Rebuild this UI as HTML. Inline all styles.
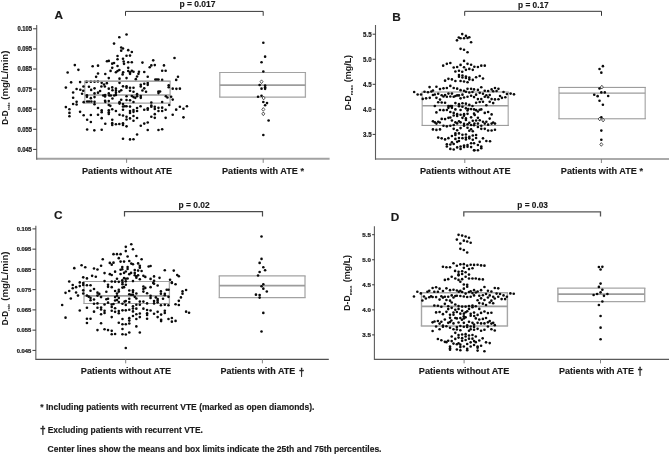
<!DOCTYPE html>
<html><head><meta charset="utf-8"><title>Figure</title>
<style>
html,body{margin:0;padding:0;background:#fff;}
body{width:669px;height:455px;overflow:hidden;}
svg{display:block;}
svg text{font-family:"Liberation Sans", Arial, Helvetica, sans-serif;font-weight:bold;fill:#1a1a1a;}
</style></head><body>
<svg width="669" height="455" viewBox="0 0 669 455">
<rect width="669" height="455" fill="#fff"/>
<g id="panel-A">
<path d="M84.8 81.2V103.2M170.1 81.2V103.2" fill="none" stroke="#aaaaaa" stroke-width="1.3"/>
<path d="M84.15 81.2H170.75M84.15 103.2H170.75" fill="none" stroke="#a2a2a2" stroke-width="1.2"/>
<line x1="84.8" y1="95" x2="170.1" y2="95" stroke="#9c9c9c" stroke-width="1.7"/>
<path d="M219.8 72.5V97.1M305.4 72.5V97.1" fill="none" stroke="#aaaaaa" stroke-width="1.3"/>
<path d="M219.15 72.5H306.05M219.15 97.1H306.05" fill="none" stroke="#a2a2a2" stroke-width="1.2"/>
<line x1="219.8" y1="85.2" x2="305.4" y2="85.2" stroke="#9c9c9c" stroke-width="1.7"/>
<g fill="#0a0a0a"><circle cx="119.31" cy="37.28" r="1.3"/><circle cx="114.04" cy="43.6" r="1.3"/><circle cx="121.2" cy="47.5" r="1.3"/><circle cx="123.0" cy="48.56" r="1.3"/><circle cx="121.2" cy="50.67" r="1.3"/><circle cx="117.52" cy="55.94" r="1.3"/><circle cx="117.52" cy="59.31" r="1.3"/><circle cx="123.0" cy="58.78" r="1.3"/><circle cx="106.97" cy="61.21" r="1.3"/><circle cx="108.77" cy="60.89" r="1.3"/><circle cx="112.24" cy="63.63" r="1.3"/><circle cx="114.04" cy="63.0" r="1.3"/><circle cx="74.82" cy="65.11" r="1.3"/><circle cx="92.64" cy="66.27" r="1.3"/><circle cx="98.01" cy="65.64" r="1.3"/><circle cx="117.52" cy="65.95" r="1.3"/><circle cx="78.4" cy="69.85" r="1.3"/><circle cx="112.24" cy="67.85" r="1.3"/><circle cx="110.56" cy="70.91" r="1.3"/><circle cx="67.65" cy="72.49" r="1.3"/><circle cx="98.01" cy="73.54" r="1.3"/><circle cx="105.29" cy="74.07" r="1.3"/><circle cx="115.93" cy="72.28" r="1.3"/><circle cx="117.52" cy="71.01" r="1.3"/><circle cx="119.31" cy="69.96" r="1.3"/><circle cx="96.11" cy="76.84" r="1.3"/><circle cx="108.77" cy="78.11" r="1.3"/><circle cx="119.52" cy="78.64" r="1.3"/><circle cx="71.13" cy="82.33" r="1.3"/><circle cx="80.09" cy="82.11" r="1.3"/><circle cx="86.63" cy="81.9" r="1.3"/><circle cx="90.84" cy="81.8" r="1.3"/><circle cx="94.53" cy="81.8" r="1.3"/><circle cx="97.91" cy="81.48" r="1.3"/><circle cx="101.7" cy="82.85" r="1.3"/><circle cx="104.02" cy="84.43" r="1.3"/><circle cx="106.87" cy="83.17" r="1.3"/><circle cx="119.52" cy="82.85" r="1.3"/><circle cx="123.0" cy="86.33" r="1.3"/><circle cx="65.86" cy="87.6" r="1.3"/><circle cx="76.61" cy="88.97" r="1.3"/><circle cx="80.3" cy="89.7" r="1.3"/><circle cx="83.46" cy="86.54" r="1.3"/><circle cx="83.25" cy="90.76" r="1.3"/><circle cx="88.95" cy="86.75" r="1.3"/><circle cx="91.16" cy="89.92" r="1.3"/><circle cx="94.53" cy="88.33" r="1.3"/><circle cx="101.39" cy="86.54" r="1.3"/><circle cx="104.86" cy="86.54" r="1.3"/><circle cx="108.77" cy="88.65" r="1.3"/><circle cx="112.24" cy="87.39" r="1.3"/><circle cx="112.45" cy="90.23" r="1.3"/><circle cx="115.93" cy="88.65" r="1.3"/><circle cx="115.93" cy="90.76" r="1.3"/><circle cx="115.93" cy="92.87" r="1.3"/><circle cx="115.93" cy="94.98" r="1.3"/><circle cx="114.25" cy="95.5" r="1.3"/><circle cx="119.31" cy="91.6" r="1.3"/><circle cx="121.2" cy="90.23" r="1.3"/><circle cx="73.13" cy="92.55" r="1.3"/><circle cx="82.09" cy="93.71" r="1.3"/><circle cx="94.53" cy="93.39" r="1.3"/><circle cx="98.01" cy="92.66" r="1.3"/><circle cx="100.12" cy="90.97" r="1.3"/><circle cx="108.77" cy="93.39" r="1.3"/><circle cx="86.94" cy="95.19" r="1.3"/><circle cx="86.94" cy="96.87" r="1.3"/><circle cx="90.84" cy="98.14" r="1.3"/><circle cx="94.53" cy="97.08" r="1.3"/><circle cx="103.28" cy="95.5" r="1.3"/><circle cx="105.08" cy="96.56" r="1.3"/><circle cx="105.08" cy="94.98" r="1.3"/><circle cx="109.29" cy="95.5" r="1.3"/><circle cx="110.87" cy="95.5" r="1.3"/><circle cx="112.45" cy="98.45" r="1.3"/><circle cx="73.13" cy="97.82" r="1.3"/><circle cx="121.2" cy="99.72" r="1.3"/><circle cx="76.61" cy="101.83" r="1.3"/><circle cx="76.61" cy="104.46" r="1.3"/><circle cx="73.13" cy="103.94" r="1.3"/><circle cx="83.67" cy="102.14" r="1.3"/><circle cx="87.15" cy="101.51" r="1.3"/><circle cx="89.05" cy="101.51" r="1.3"/><circle cx="91.37" cy="101.51" r="1.3"/><circle cx="94.53" cy="101.83" r="1.3"/><circle cx="94.53" cy="104.25" r="1.3"/><circle cx="105.08" cy="100.77" r="1.3"/><circle cx="105.29" cy="101.83" r="1.3"/><circle cx="108.77" cy="101.09" r="1.3"/><circle cx="119.52" cy="103.62" r="1.3"/><circle cx="119.52" cy="102.14" r="1.3"/><circle cx="123.0" cy="103.94" r="1.3"/><circle cx="108.77" cy="104.99" r="1.3"/><circle cx="110.35" cy="105.83" r="1.3"/><circle cx="123.0" cy="106.57" r="1.3"/><circle cx="65.86" cy="107.1" r="1.3"/><circle cx="69.44" cy="109.21" r="1.3"/><circle cx="69.44" cy="112.9" r="1.3"/><circle cx="69.44" cy="116.27" r="1.3"/><circle cx="98.01" cy="107.94" r="1.3"/><circle cx="101.7" cy="110.26" r="1.3"/><circle cx="101.7" cy="112.16" r="1.3"/><circle cx="108.77" cy="110.26" r="1.3"/><circle cx="108.77" cy="112.37" r="1.3"/><circle cx="108.77" cy="113.95" r="1.3"/><circle cx="112.24" cy="109.21" r="1.3"/><circle cx="115.93" cy="111.0" r="1.3"/><circle cx="123.0" cy="109.73" r="1.3"/><circle cx="80.09" cy="111.84" r="1.3"/><circle cx="83.67" cy="115.32" r="1.3"/><circle cx="90.84" cy="115.01" r="1.3"/><circle cx="98.01" cy="114.8" r="1.3"/><circle cx="101.7" cy="118.17" r="1.3"/><circle cx="119.52" cy="114.8" r="1.3"/><circle cx="123.0" cy="115.53" r="1.3"/><circle cx="87.15" cy="119.75" r="1.3"/><circle cx="90.84" cy="122.07" r="1.3"/><circle cx="112.24" cy="119.75" r="1.3"/><circle cx="105.29" cy="123.69" r="1.3"/><circle cx="112.24" cy="123.16" r="1.3"/><circle cx="112.24" cy="125.06" r="1.3"/><circle cx="115.93" cy="124.22" r="1.3"/><circle cx="119.31" cy="124.01" r="1.3"/><circle cx="123.0" cy="123.37" r="1.3"/><circle cx="123.0" cy="125.06" r="1.3"/><circle cx="87.15" cy="129.49" r="1.3"/><circle cx="94.32" cy="130.33" r="1.3"/><circle cx="101.7" cy="129.7" r="1.3"/><circle cx="123.0" cy="138.77" r="1.3"/><circle cx="123.69" cy="61.52" r="1.3"/><circle cx="124.01" cy="63.84" r="1.3"/><circle cx="123.16" cy="72.28" r="1.3"/><circle cx="122.64" cy="74.39" r="1.3"/><circle cx="126.54" cy="34.54" r="1.3"/><circle cx="128.22" cy="50.14" r="1.3"/><circle cx="131.81" cy="52.04" r="1.3"/><circle cx="126.54" cy="55.73" r="1.3"/><circle cx="130.02" cy="55.62" r="1.3"/><circle cx="128.22" cy="62.26" r="1.3"/><circle cx="131.81" cy="62.26" r="1.3"/><circle cx="128.22" cy="67.85" r="1.3"/><circle cx="128.22" cy="71.01" r="1.3"/><circle cx="130.02" cy="72.28" r="1.3"/><circle cx="131.81" cy="70.7" r="1.3"/><circle cx="133.49" cy="71.75" r="1.3"/><circle cx="130.02" cy="73.86" r="1.3"/><circle cx="138.98" cy="71.75" r="1.3"/><circle cx="138.45" cy="73.86" r="1.3"/><circle cx="142.45" cy="62.58" r="1.3"/><circle cx="144.25" cy="72.07" r="1.3"/><circle cx="153.21" cy="60.36" r="1.3"/><circle cx="151.31" cy="65.42" r="1.3"/><circle cx="149.73" cy="67.22" r="1.3"/><circle cx="154.79" cy="65.11" r="1.3"/><circle cx="163.96" cy="65.42" r="1.3"/><circle cx="162.17" cy="70.7" r="1.3"/><circle cx="165.65" cy="70.7" r="1.3"/><circle cx="174.5" cy="58.05" r="1.3"/><circle cx="126.54" cy="78.11" r="1.3"/><circle cx="135.81" cy="79.17" r="1.3"/><circle cx="137.08" cy="76.43" r="1.3"/><circle cx="147.73" cy="76.74" r="1.3"/><circle cx="155.32" cy="79.59" r="1.3"/><circle cx="156.9" cy="79.59" r="1.3"/><circle cx="158.48" cy="79.59" r="1.3"/><circle cx="162.17" cy="79.91" r="1.3"/><circle cx="177.98" cy="76.74" r="1.3"/><circle cx="176.19" cy="79.91" r="1.3"/><circle cx="126.54" cy="86.23" r="1.3"/><circle cx="126.54" cy="87.81" r="1.3"/><circle cx="130.02" cy="87.81" r="1.3"/><circle cx="133.49" cy="87.81" r="1.3"/><circle cx="130.02" cy="90.77" r="1.3"/><circle cx="133.49" cy="91.82" r="1.3"/><circle cx="140.77" cy="84.86" r="1.3"/><circle cx="140.77" cy="86.55" r="1.3"/><circle cx="144.25" cy="83.81" r="1.3"/><circle cx="147.73" cy="83.07" r="1.3"/><circle cx="147.73" cy="84.86" r="1.3"/><circle cx="144.25" cy="88.34" r="1.3"/><circle cx="142.45" cy="90.45" r="1.3"/><circle cx="146.04" cy="91.82" r="1.3"/><circle cx="158.48" cy="91.5" r="1.3"/><circle cx="160.06" cy="91.5" r="1.3"/><circle cx="158.48" cy="93.08" r="1.3"/><circle cx="168.7" cy="85.18" r="1.3"/><circle cx="168.7" cy="87.29" r="1.3"/><circle cx="172.71" cy="88.66" r="1.3"/><circle cx="176.4" cy="88.87" r="1.3"/><circle cx="179.88" cy="88.66" r="1.3"/><circle cx="126.54" cy="96.25" r="1.3"/><circle cx="126.54" cy="99.94" r="1.3"/><circle cx="130.02" cy="100.25" r="1.3"/><circle cx="131.81" cy="96.04" r="1.3"/><circle cx="133.49" cy="97.09" r="1.3"/><circle cx="135.29" cy="97.83" r="1.3"/><circle cx="137.08" cy="94.14" r="1.3"/><circle cx="137.08" cy="96.25" r="1.3"/><circle cx="140.77" cy="96.04" r="1.3"/><circle cx="140.77" cy="97.83" r="1.3"/><circle cx="165.86" cy="96.25" r="1.3"/><circle cx="167.44" cy="97.51" r="1.3"/><circle cx="171.13" cy="96.77" r="1.3"/><circle cx="172.71" cy="99.62" r="1.3"/><circle cx="133.49" cy="102.05" r="1.3"/><circle cx="151.31" cy="102.57" r="1.3"/><circle cx="162.17" cy="102.05" r="1.3"/><circle cx="169.23" cy="105.0" r="1.3"/><circle cx="124.74" cy="106.26" r="1.3"/><circle cx="126.54" cy="106.26" r="1.3"/><circle cx="130.02" cy="106.58" r="1.3"/><circle cx="140.56" cy="106.26" r="1.3"/><circle cx="151.31" cy="105.52" r="1.3"/><circle cx="151.31" cy="106.79" r="1.3"/><circle cx="154.79" cy="106.79" r="1.3"/><circle cx="154.79" cy="108.9" r="1.3"/><circle cx="158.48" cy="107.84" r="1.3"/><circle cx="162.17" cy="107.63" r="1.3"/><circle cx="158.48" cy="111.01" r="1.3"/><circle cx="162.17" cy="111.01" r="1.3"/><circle cx="165.65" cy="109.74" r="1.3"/><circle cx="144.25" cy="109.74" r="1.3"/><circle cx="147.73" cy="108.37" r="1.3"/><circle cx="147.73" cy="109.74" r="1.3"/><circle cx="137.08" cy="108.05" r="1.3"/><circle cx="137.08" cy="111.01" r="1.3"/><circle cx="133.49" cy="109.95" r="1.3"/><circle cx="133.49" cy="111.85" r="1.3"/><circle cx="130.02" cy="111.01" r="1.3"/><circle cx="130.02" cy="112.9" r="1.3"/><circle cx="176.19" cy="109.64" r="1.3"/><circle cx="179.88" cy="106.79" r="1.3"/><circle cx="183.46" cy="108.69" r="1.3"/><circle cx="186.94" cy="106.26" r="1.3"/><circle cx="172.71" cy="114.7" r="1.3"/><circle cx="154.79" cy="114.17" r="1.3"/><circle cx="151.31" cy="116.8" r="1.3"/><circle cx="154.79" cy="117.86" r="1.3"/><circle cx="165.65" cy="117.86" r="1.3"/><circle cx="183.46" cy="117.33" r="1.3"/><circle cx="126.54" cy="116.8" r="1.3"/><circle cx="126.54" cy="119.44" r="1.3"/><circle cx="130.02" cy="118.39" r="1.3"/><circle cx="133.49" cy="116.07" r="1.3"/><circle cx="137.08" cy="118.07" r="1.3"/><circle cx="133.49" cy="120.74" r="1.3"/><circle cx="126.54" cy="126.33" r="1.3"/><circle cx="140.77" cy="125.8" r="1.3"/><circle cx="144.25" cy="123.59" r="1.3"/><circle cx="147.73" cy="122.54" r="1.3"/><circle cx="147.73" cy="130.02" r="1.3"/><circle cx="158.48" cy="130.02" r="1.3"/><circle cx="162.17" cy="129.18" r="1.3"/><circle cx="137.08" cy="134.45" r="1.3"/><circle cx="130.02" cy="139.4" r="1.3"/><circle cx="133.49" cy="139.19" r="1.3"/><circle cx="263.32" cy="42.76" r="1.3"/><circle cx="265.11" cy="56.67" r="1.3"/><circle cx="261.52" cy="62.26" r="1.3"/><circle cx="263.32" cy="71.43" r="1.3"/><circle cx="259.63" cy="84.97" r="1.3"/><circle cx="261.52" cy="88.66" r="1.3"/><circle cx="265.11" cy="85.49" r="1.3"/><circle cx="265.11" cy="87.29" r="1.3"/><circle cx="265.11" cy="88.87" r="1.3"/><circle cx="258.05" cy="96.77" r="1.3"/><circle cx="261.52" cy="95.72" r="1.3"/><circle cx="263.32" cy="102.05" r="1.3"/><circle cx="267.01" cy="103.1" r="1.3"/><circle cx="265.11" cy="105.21" r="1.3"/><circle cx="268.59" cy="120.43" r="1.3"/><circle cx="263.32" cy="134.98" r="1.3"/></g>
<line x1="84.8" y1="81.2" x2="170.1" y2="81.2" stroke="#a0a0a0" stroke-width="1.15"/>
<path d="M261.52 79.85L263.02 81.7L261.52 83.55L260.02 81.7Z" fill="#fff" stroke="#111" stroke-width="0.7"/>
<path d="M263.63 96.19L265.13 98.04L263.63 99.89L262.13 98.04Z" fill="#fff" stroke="#111" stroke-width="0.7"/>
<path d="M263.32 107.57L264.82 109.42L263.32 111.27L261.82 109.42Z" fill="#fff" stroke="#111" stroke-width="0.7"/>
<path d="M263.32 112.0L264.82 113.85L263.32 115.7L261.82 113.85Z" fill="#fff" stroke="#111" stroke-width="0.7"/>
<line x1="36.7" y1="158.85" x2="329.6" y2="158.85" stroke="#a2a2a2" stroke-width="2"/>
<line x1="36.7" y1="25" x2="36.7" y2="159.85" stroke="#5c5c5c" stroke-width="1.1"/>
<line x1="33.1" y1="28.8" x2="36.7" y2="28.8" stroke="#3a3a3a" stroke-width="1"/>
<text x="32.1" y="31.2" font-size="6.3" text-anchor="end" textLength="14.6" lengthAdjust="spacingAndGlyphs" stroke="#1a1a1a" stroke-width="0.22">0.105</text>
<line x1="33.1" y1="48.9" x2="36.7" y2="48.9" stroke="#3a3a3a" stroke-width="1"/>
<text x="32.1" y="51.3" font-size="6.3" text-anchor="end" textLength="14.6" lengthAdjust="spacingAndGlyphs" stroke="#1a1a1a" stroke-width="0.22">0.095</text>
<line x1="33.1" y1="69.0" x2="36.7" y2="69.0" stroke="#3a3a3a" stroke-width="1"/>
<text x="32.1" y="71.4" font-size="6.3" text-anchor="end" textLength="14.6" lengthAdjust="spacingAndGlyphs" stroke="#1a1a1a" stroke-width="0.22">0.085</text>
<line x1="33.1" y1="89.1" x2="36.7" y2="89.1" stroke="#3a3a3a" stroke-width="1"/>
<text x="32.1" y="91.5" font-size="6.3" text-anchor="end" textLength="14.6" lengthAdjust="spacingAndGlyphs" stroke="#1a1a1a" stroke-width="0.22">0.075</text>
<line x1="33.1" y1="109.2" x2="36.7" y2="109.2" stroke="#3a3a3a" stroke-width="1"/>
<text x="32.1" y="111.6" font-size="6.3" text-anchor="end" textLength="14.6" lengthAdjust="spacingAndGlyphs" stroke="#1a1a1a" stroke-width="0.22">0.065</text>
<line x1="33.1" y1="129.3" x2="36.7" y2="129.3" stroke="#3a3a3a" stroke-width="1"/>
<text x="32.1" y="131.7" font-size="6.3" text-anchor="end" textLength="14.6" lengthAdjust="spacingAndGlyphs" stroke="#1a1a1a" stroke-width="0.22">0.055</text>
<line x1="33.1" y1="149.4" x2="36.7" y2="149.4" stroke="#3a3a3a" stroke-width="1"/>
<text x="32.1" y="151.8" font-size="6.3" text-anchor="end" textLength="14.6" lengthAdjust="spacingAndGlyphs" stroke="#1a1a1a" stroke-width="0.22">0.045</text>
<line x1="126.6" y1="158.85" x2="126.6" y2="162.85" stroke="#777" stroke-width="0.9"/>
<line x1="263.2" y1="158.85" x2="263.2" y2="162.85" stroke="#777" stroke-width="0.9"/>
<path d="M125.5 15.8V11.4H263.2V15.8" fill="none" stroke="#2c2c2c" stroke-width="0.95"/>
<text x="179.5" y="6.5" font-size="8.5" text-anchor="start" textLength="36" lengthAdjust="spacingAndGlyphs" stroke="#1a1a1a" stroke-width="0.15">p = 0.017</text>
<text x="54.6" y="18.6" font-size="11.8" text-anchor="start" stroke="#1a1a1a" stroke-width="0.15">A</text>
<text x="82" y="173.7" font-size="9.3" text-anchor="start" textLength="90.2" lengthAdjust="spacingAndGlyphs" stroke="#1a1a1a" stroke-width="0.15">Patients without ATE</text>
<text x="222" y="173.7" font-size="9.3" text-anchor="start" textLength="82" lengthAdjust="spacingAndGlyphs" stroke="#1a1a1a" stroke-width="0.15">Patients with ATE *</text>
<text transform="translate(7.8 124.8) rotate(-90)" font-size="8.4" textLength="14.4" lengthAdjust="spacingAndGlyphs">D-D</text>
<text transform="translate(9.8 110.2) rotate(-90)" font-size="4.3" textLength="7.7" lengthAdjust="spacingAndGlyphs">rate</text>
<text transform="translate(7.8 99.8) rotate(-90)" font-size="8.8" textLength="49.2" lengthAdjust="spacingAndGlyphs">(mg/L/min)</text>
</g>
<g id="panel-B">
<path d="M422.2 92V125.4M508.2 92V125.4" fill="none" stroke="#b0b0b0" stroke-width="1.3"/>
<path d="M421.55 92H508.85M421.55 125.4H508.85" fill="none" stroke="#8c8c8c" stroke-width="0.95"/>
<line x1="422.2" y1="105.8" x2="508.2" y2="105.8" stroke="#9c9c9c" stroke-width="1.6"/>
<path d="M559 87.4V118.8M645.2 87.4V118.8" fill="none" stroke="#b0b0b0" stroke-width="1.3"/>
<path d="M558.35 87.4H645.85M558.35 118.8H645.85" fill="none" stroke="#8c8c8c" stroke-width="0.95"/>
<line x1="559" y1="93.2" x2="645.2" y2="93.2" stroke="#9c9c9c" stroke-width="1.25"/>
<g fill="#0a0a0a"><circle cx="462.24" cy="34.11" r="1.3"/><circle cx="465.93" cy="35.91" r="1.3"/><circle cx="458.77" cy="37.49" r="1.3"/><circle cx="460.56" cy="38.23" r="1.3"/><circle cx="464.04" cy="38.23" r="1.3"/><circle cx="467.52" cy="38.02" r="1.3"/><circle cx="469.31" cy="37.28" r="1.3"/><circle cx="456.97" cy="40.33" r="1.3"/><circle cx="471.1" cy="42.23" r="1.3"/><circle cx="460.56" cy="48.87" r="1.3"/><circle cx="464.04" cy="49.82" r="1.3"/><circle cx="467.52" cy="52.25" r="1.3"/><circle cx="464.04" cy="60.89" r="1.3"/><circle cx="443.16" cy="65.64" r="1.3"/><circle cx="446.85" cy="63.84" r="1.3"/><circle cx="450.33" cy="63.0" r="1.3"/><circle cx="467.52" cy="63.84" r="1.3"/><circle cx="471.1" cy="64.69" r="1.3"/><circle cx="474.37" cy="66.8" r="1.3"/><circle cx="460.56" cy="64.9" r="1.3"/><circle cx="453.7" cy="67.53" r="1.3"/><circle cx="457.18" cy="67.01" r="1.3"/><circle cx="464.04" cy="67.22" r="1.3"/><circle cx="465.93" cy="69.85" r="1.3"/><circle cx="469.31" cy="68.9" r="1.3"/><circle cx="472.79" cy="69.85" r="1.3"/><circle cx="455.39" cy="71.43" r="1.3"/><circle cx="458.98" cy="70.7" r="1.3"/><circle cx="462.24" cy="71.75" r="1.3"/><circle cx="458.98" cy="74.95" r="1.3"/><circle cx="458.98" cy="76.74" r="1.3"/><circle cx="462.45" cy="75.48" r="1.3"/><circle cx="462.45" cy="77.48" r="1.3"/><circle cx="465.93" cy="76.43" r="1.3"/><circle cx="465.93" cy="78.01" r="1.3"/><circle cx="469.31" cy="77.48" r="1.3"/><circle cx="469.31" cy="79.38" r="1.3"/><circle cx="472.79" cy="79.91" r="1.3"/><circle cx="448.43" cy="78.85" r="1.3"/><circle cx="451.91" cy="79.38" r="1.3"/><circle cx="445.06" cy="80.64" r="1.3"/><circle cx="455.39" cy="80.96" r="1.3"/><circle cx="460.56" cy="80.96" r="1.3"/><circle cx="464.04" cy="81.49" r="1.3"/><circle cx="467.52" cy="82.23" r="1.3"/><circle cx="450.33" cy="85.92" r="1.3"/><circle cx="429.56" cy="87.08" r="1.3"/><circle cx="436.42" cy="86.76" r="1.3"/><circle cx="440.0" cy="89.08" r="1.3"/><circle cx="443.48" cy="88.34" r="1.3"/><circle cx="446.85" cy="88.02" r="1.3"/><circle cx="453.7" cy="88.02" r="1.3"/><circle cx="457.18" cy="88.66" r="1.3"/><circle cx="460.56" cy="90.13" r="1.3"/><circle cx="464.04" cy="90.77" r="1.3"/><circle cx="465.93" cy="91.82" r="1.3"/><circle cx="467.52" cy="88.87" r="1.3"/><circle cx="471.1" cy="88.87" r="1.3"/><circle cx="474.05" cy="89.39" r="1.3"/><circle cx="469.31" cy="92.56" r="1.3"/><circle cx="472.47" cy="92.03" r="1.3"/><circle cx="414.17" cy="92.03" r="1.3"/><circle cx="417.65" cy="94.45" r="1.3"/><circle cx="421.02" cy="94.45" r="1.3"/><circle cx="424.5" cy="91.71" r="1.3"/><circle cx="427.98" cy="92.24" r="1.3"/><circle cx="431.36" cy="91.5" r="1.3"/><circle cx="432.94" cy="90.45" r="1.3"/><circle cx="432.94" cy="94.98" r="1.3"/><circle cx="434.83" cy="94.45" r="1.3"/><circle cx="438.21" cy="93.82" r="1.3"/><circle cx="441.69" cy="95.19" r="1.3"/><circle cx="443.48" cy="96.46" r="1.3"/><circle cx="445.06" cy="94.98" r="1.3"/><circle cx="446.85" cy="96.77" r="1.3"/><circle cx="448.43" cy="93.61" r="1.3"/><circle cx="450.33" cy="96.46" r="1.3"/><circle cx="451.91" cy="93.61" r="1.3"/><circle cx="453.7" cy="96.77" r="1.3"/><circle cx="455.39" cy="96.04" r="1.3"/><circle cx="457.18" cy="95.4" r="1.3"/><circle cx="458.98" cy="95.4" r="1.3"/><circle cx="462.45" cy="94.67" r="1.3"/><circle cx="460.56" cy="98.36" r="1.3"/><circle cx="464.04" cy="97.51" r="1.3"/><circle cx="467.52" cy="96.77" r="1.3"/><circle cx="471.1" cy="95.72" r="1.3"/><circle cx="474.05" cy="97.09" r="1.3"/><circle cx="422.71" cy="98.88" r="1.3"/><circle cx="426.08" cy="98.36" r="1.3"/><circle cx="429.77" cy="97.83" r="1.3"/><circle cx="436.42" cy="97.83" r="1.3"/><circle cx="440.0" cy="99.62" r="1.3"/><circle cx="438.21" cy="102.26" r="1.3"/><circle cx="441.69" cy="102.57" r="1.3"/><circle cx="445.06" cy="102.78" r="1.3"/><circle cx="455.39" cy="103.1" r="1.3"/><circle cx="458.98" cy="104.15" r="1.3"/><circle cx="462.45" cy="103.31" r="1.3"/><circle cx="465.93" cy="103.63" r="1.3"/><circle cx="469.31" cy="104.89" r="1.3"/><circle cx="472.47" cy="105.95" r="1.3"/><circle cx="434.83" cy="106.05" r="1.3"/><circle cx="448.43" cy="105.95" r="1.3"/><circle cx="450.33" cy="105.95" r="1.3"/><circle cx="451.91" cy="105.95" r="1.3"/><circle cx="448.43" cy="107.84" r="1.3"/><circle cx="451.91" cy="107.84" r="1.3"/><circle cx="458.98" cy="106.26" r="1.3"/><circle cx="462.45" cy="106.79" r="1.3"/><circle cx="465.93" cy="108.37" r="1.3"/><circle cx="468.25" cy="109.11" r="1.3"/><circle cx="471.1" cy="109.11" r="1.3"/><circle cx="474.05" cy="109.42" r="1.3"/><circle cx="440.0" cy="109.95" r="1.3"/><circle cx="443.48" cy="110.16" r="1.3"/><circle cx="446.85" cy="109.95" r="1.3"/><circle cx="455.39" cy="109.42" r="1.3"/><circle cx="460.56" cy="109.95" r="1.3"/><circle cx="467.52" cy="110.48" r="1.3"/><circle cx="436.42" cy="112.38" r="1.3"/><circle cx="450.33" cy="112.06" r="1.3"/><circle cx="453.7" cy="112.9" r="1.3"/><circle cx="474.05" cy="113.64" r="1.3"/><circle cx="453.7" cy="115.43" r="1.3"/><circle cx="457.18" cy="114.17" r="1.3"/><circle cx="457.18" cy="116.07" r="1.3"/><circle cx="460.56" cy="114.7" r="1.3"/><circle cx="464.04" cy="114.17" r="1.3"/><circle cx="464.04" cy="115.75" r="1.3"/><circle cx="467.52" cy="113.85" r="1.3"/><circle cx="448.43" cy="117.86" r="1.3"/><circle cx="450.33" cy="117.54" r="1.3"/><circle cx="441.69" cy="118.91" r="1.3"/><circle cx="445.06" cy="119.12" r="1.3"/><circle cx="462.45" cy="117.86" r="1.3"/><circle cx="465.93" cy="118.39" r="1.3"/><circle cx="471.1" cy="117.33" r="1.3"/><circle cx="451.91" cy="120.43" r="1.3"/><circle cx="455.39" cy="122.33" r="1.3"/><circle cx="457.18" cy="123.38" r="1.3"/><circle cx="458.98" cy="121.27" r="1.3"/><circle cx="460.56" cy="122.33" r="1.3"/><circle cx="432.94" cy="121.27" r="1.3"/><circle cx="434.83" cy="122.33" r="1.3"/><circle cx="436.42" cy="123.59" r="1.3"/><circle cx="438.21" cy="121.8" r="1.3"/><circle cx="439.79" cy="122.54" r="1.3"/><circle cx="465.93" cy="120.01" r="1.3"/><circle cx="472.79" cy="120.74" r="1.3"/><circle cx="464.04" cy="123.91" r="1.3"/><circle cx="464.04" cy="125.7" r="1.3"/><circle cx="467.52" cy="124.22" r="1.3"/><circle cx="469.31" cy="122.85" r="1.3"/><circle cx="471.1" cy="124.96" r="1.3"/><circle cx="474.05" cy="125.28" r="1.3"/><circle cx="443.48" cy="125.7" r="1.3"/><circle cx="446.85" cy="126.33" r="1.3"/><circle cx="450.33" cy="125.7" r="1.3"/><circle cx="453.7" cy="124.96" r="1.3"/><circle cx="432.94" cy="129.39" r="1.3"/><circle cx="436.42" cy="129.92" r="1.3"/><circle cx="440.0" cy="129.39" r="1.3"/><circle cx="453.7" cy="128.86" r="1.3"/><circle cx="457.18" cy="130.23" r="1.3"/><circle cx="460.56" cy="128.12" r="1.3"/><circle cx="467.52" cy="127.81" r="1.3"/><circle cx="469.31" cy="130.76" r="1.3"/><circle cx="471.1" cy="129.18" r="1.3"/><circle cx="472.79" cy="131.29" r="1.3"/><circle cx="455.39" cy="133.39" r="1.3"/><circle cx="455.39" cy="134.98" r="1.3"/><circle cx="458.98" cy="133.39" r="1.3"/><circle cx="462.45" cy="134.77" r="1.3"/><circle cx="465.93" cy="134.45" r="1.3"/><circle cx="451.91" cy="136.03" r="1.3"/><circle cx="438.21" cy="137.61" r="1.3"/><circle cx="441.69" cy="138.35" r="1.3"/><circle cx="445.06" cy="139.4" r="1.3"/><circle cx="448.43" cy="138.14" r="1.3"/><circle cx="455.39" cy="138.88" r="1.3"/><circle cx="458.98" cy="137.93" r="1.3"/><circle cx="462.45" cy="138.14" r="1.3"/><circle cx="465.93" cy="137.61" r="1.3"/><circle cx="465.93" cy="139.4" r="1.3"/><circle cx="469.31" cy="136.87" r="1.3"/><circle cx="469.31" cy="138.35" r="1.3"/><circle cx="472.79" cy="135.5" r="1.3"/><circle cx="472.79" cy="139.72" r="1.3"/><circle cx="457.18" cy="141.83" r="1.3"/><circle cx="458.98" cy="140.98" r="1.3"/><circle cx="451.91" cy="142.36" r="1.3"/><circle cx="453.7" cy="143.94" r="1.3"/><circle cx="450.33" cy="144.46" r="1.3"/><circle cx="446.85" cy="144.25" r="1.3"/><circle cx="446.85" cy="146.57" r="1.3"/><circle cx="471.1" cy="143.2" r="1.3"/><circle cx="474.05" cy="143.2" r="1.3"/><circle cx="464.04" cy="145.52" r="1.3"/><circle cx="464.04" cy="147.1" r="1.3"/><circle cx="467.52" cy="144.99" r="1.3"/><circle cx="467.52" cy="146.78" r="1.3"/><circle cx="471.1" cy="147.1" r="1.3"/><circle cx="474.05" cy="150.26" r="1.3"/><circle cx="460.56" cy="146.57" r="1.3"/><circle cx="460.56" cy="148.89" r="1.3"/><circle cx="457.18" cy="147.42" r="1.3"/><circle cx="450.33" cy="148.89" r="1.3"/><circle cx="453.7" cy="149.52" r="1.3"/><circle cx="477.91" cy="67.01" r="1.3"/><circle cx="481.28" cy="65.64" r="1.3"/><circle cx="484.76" cy="65.64" r="1.3"/><circle cx="476.11" cy="77.27" r="1.3"/><circle cx="479.7" cy="76.01" r="1.3"/><circle cx="482.97" cy="78.54" r="1.3"/><circle cx="481.28" cy="87.29" r="1.3"/><circle cx="477.91" cy="89.92" r="1.3"/><circle cx="484.76" cy="90.77" r="1.3"/><circle cx="488.13" cy="90.98" r="1.3"/><circle cx="491.61" cy="89.39" r="1.3"/><circle cx="493.19" cy="91.29" r="1.3"/><circle cx="494.98" cy="88.02" r="1.3"/><circle cx="496.57" cy="90.98" r="1.3"/><circle cx="498.46" cy="88.87" r="1.3"/><circle cx="479.7" cy="92.87" r="1.3"/><circle cx="482.97" cy="93.82" r="1.3"/><circle cx="503.52" cy="92.03" r="1.3"/><circle cx="506.9" cy="93.93" r="1.3"/><circle cx="510.59" cy="93.61" r="1.3"/><circle cx="513.96" cy="94.35" r="1.3"/><circle cx="476.11" cy="94.67" r="1.3"/><circle cx="486.34" cy="95.19" r="1.3"/><circle cx="484.76" cy="96.77" r="1.3"/><circle cx="488.13" cy="97.3" r="1.3"/><circle cx="489.71" cy="94.98" r="1.3"/><circle cx="500.05" cy="95.93" r="1.3"/><circle cx="501.94" cy="97.83" r="1.3"/><circle cx="505.32" cy="97.3" r="1.3"/><circle cx="477.91" cy="99.09" r="1.3"/><circle cx="481.28" cy="99.09" r="1.3"/><circle cx="491.61" cy="99.09" r="1.3"/><circle cx="494.98" cy="99.41" r="1.3"/><circle cx="498.46" cy="99.2" r="1.3"/><circle cx="476.11" cy="102.78" r="1.3"/><circle cx="479.7" cy="102.05" r="1.3"/><circle cx="482.97" cy="101.73" r="1.3"/><circle cx="489.71" cy="101.73" r="1.3"/><circle cx="493.19" cy="103.1" r="1.3"/><circle cx="486.34" cy="105.21" r="1.3"/><circle cx="476.11" cy="110.16" r="1.3"/><circle cx="477.91" cy="111.53" r="1.3"/><circle cx="479.7" cy="109.74" r="1.3"/><circle cx="481.28" cy="109.42" r="1.3"/><circle cx="474.74" cy="115.01" r="1.3"/><circle cx="484.76" cy="112.9" r="1.3"/><circle cx="488.13" cy="112.06" r="1.3"/><circle cx="491.61" cy="114.38" r="1.3"/><circle cx="477.91" cy="117.86" r="1.3"/><circle cx="489.71" cy="118.6" r="1.3"/><circle cx="474.43" cy="123.59" r="1.3"/><circle cx="476.11" cy="120.43" r="1.3"/><circle cx="479.7" cy="120.22" r="1.3"/><circle cx="477.91" cy="123.59" r="1.3"/><circle cx="481.28" cy="125.7" r="1.3"/><circle cx="477.91" cy="127.07" r="1.3"/><circle cx="482.97" cy="121.8" r="1.3"/><circle cx="484.76" cy="123.59" r="1.3"/><circle cx="486.34" cy="121.8" r="1.3"/><circle cx="488.13" cy="124.64" r="1.3"/><circle cx="491.61" cy="123.59" r="1.3"/><circle cx="493.19" cy="122.54" r="1.3"/><circle cx="494.98" cy="123.59" r="1.3"/><circle cx="481.28" cy="128.86" r="1.3"/><circle cx="484.76" cy="128.86" r="1.3"/><circle cx="488.13" cy="130.44" r="1.3"/><circle cx="491.61" cy="130.44" r="1.3"/><circle cx="494.98" cy="129.7" r="1.3"/><circle cx="476.11" cy="134.98" r="1.3"/><circle cx="476.11" cy="137.93" r="1.3"/><circle cx="482.97" cy="138.35" r="1.3"/><circle cx="486.34" cy="140.98" r="1.3"/><circle cx="490.03" cy="141.3" r="1.3"/><circle cx="479.7" cy="141.83" r="1.3"/><circle cx="477.91" cy="144.99" r="1.3"/><circle cx="481.28" cy="146.57" r="1.3"/><circle cx="481.28" cy="148.15" r="1.3"/><circle cx="474.43" cy="150.26" r="1.3"/><circle cx="477.91" cy="150.26" r="1.3"/><circle cx="602.9" cy="66.13" r="1.3"/><circle cx="599.52" cy="68.98" r="1.3"/><circle cx="601.32" cy="72.67" r="1.3"/><circle cx="599.52" cy="88.48" r="1.3"/><circle cx="601.32" cy="92.38" r="1.3"/><circle cx="604.8" cy="92.38" r="1.3"/><circle cx="594.25" cy="94.8" r="1.3"/><circle cx="597.63" cy="96.17" r="1.3"/><circle cx="608.17" cy="96.07" r="1.3"/><circle cx="599.52" cy="100.75" r="1.3"/><circle cx="602.9" cy="104.76" r="1.3"/><circle cx="601.32" cy="117.2" r="1.3"/><circle cx="601.32" cy="130.59" r="1.3"/><circle cx="601.32" cy="139.82" r="1.3"/></g>
<path d="M601.84 85.26L603.34 87.11L601.84 88.96L600.34 87.11Z" fill="#fff" stroke="#111" stroke-width="0.7"/>
<path d="M599.73 117.14L601.23 118.99L599.73 120.84L598.23 118.99Z" fill="#fff" stroke="#111" stroke-width="0.7"/>
<path d="M603.11 118.2L604.61 120.05L603.11 121.9L601.61 120.05Z" fill="#fff" stroke="#111" stroke-width="0.7"/>
<path d="M601.32 142.61L602.82 144.46L601.32 146.31L599.82 144.46Z" fill="#fff" stroke="#111" stroke-width="0.7"/>
<line x1="375.5" y1="159.0" x2="669" y2="159.0" stroke="#8e8e8e" stroke-width="1.6"/>
<line x1="375.5" y1="25" x2="375.5" y2="159.8" stroke="#5c5c5c" stroke-width="1.1"/>
<line x1="372.6" y1="34.2" x2="375.5" y2="34.2" stroke="#3a3a3a" stroke-width="1"/>
<text x="371.6" y="36.6" font-size="6.3" text-anchor="end" textLength="8.6" lengthAdjust="spacingAndGlyphs" stroke="#1a1a1a" stroke-width="0.22">5.5</text>
<line x1="372.6" y1="59.25" x2="375.5" y2="59.25" stroke="#3a3a3a" stroke-width="1"/>
<text x="371.6" y="61.65" font-size="6.3" text-anchor="end" textLength="8.6" lengthAdjust="spacingAndGlyphs" stroke="#1a1a1a" stroke-width="0.22">5.0</text>
<line x1="372.6" y1="84.3" x2="375.5" y2="84.3" stroke="#3a3a3a" stroke-width="1"/>
<text x="371.6" y="86.7" font-size="6.3" text-anchor="end" textLength="8.6" lengthAdjust="spacingAndGlyphs" stroke="#1a1a1a" stroke-width="0.22">4.5</text>
<line x1="372.6" y1="109.35" x2="375.5" y2="109.35" stroke="#3a3a3a" stroke-width="1"/>
<text x="371.6" y="111.75" font-size="6.3" text-anchor="end" textLength="8.6" lengthAdjust="spacingAndGlyphs" stroke="#1a1a1a" stroke-width="0.22">4.0</text>
<line x1="372.6" y1="134.4" x2="375.5" y2="134.4" stroke="#3a3a3a" stroke-width="1"/>
<text x="371.6" y="136.8" font-size="6.3" text-anchor="end" textLength="8.6" lengthAdjust="spacingAndGlyphs" stroke="#1a1a1a" stroke-width="0.22">3.5</text>
<line x1="464.8" y1="159.0" x2="464.8" y2="163.0" stroke="#777" stroke-width="0.9"/>
<line x1="601.4" y1="159.0" x2="601.4" y2="163.0" stroke="#777" stroke-width="0.9"/>
<path d="M464.7 15.8V11.3H601.5V15.8" fill="none" stroke="#333" stroke-width="1.0"/>
<text x="518" y="7.6" font-size="8.5" text-anchor="start" textLength="30.7" lengthAdjust="spacingAndGlyphs" stroke="#1a1a1a" stroke-width="0.15">p = 0.17</text>
<text x="392.3" y="20.6" font-size="11.8" text-anchor="start" stroke="#1a1a1a" stroke-width="0.15">B</text>
<text x="420" y="173.5" font-size="9.3" text-anchor="start" textLength="90.5" lengthAdjust="spacingAndGlyphs" stroke="#1a1a1a" stroke-width="0.15">Patients without ATE</text>
<text x="560.8" y="173.5" font-size="9.3" text-anchor="start" textLength="82.2" lengthAdjust="spacingAndGlyphs" stroke="#1a1a1a" stroke-width="0.15">Patients with ATE *</text>
<text transform="translate(350.8 110.3) rotate(-90)" font-size="8.4" textLength="14.9" lengthAdjust="spacingAndGlyphs">D-D</text>
<text transform="translate(352.8 95.2) rotate(-90)" font-size="4.3" textLength="10.4" lengthAdjust="spacingAndGlyphs">max</text>
<text transform="translate(350.8 82.2) rotate(-90)" font-size="8.8" textLength="27.3" lengthAdjust="spacingAndGlyphs">(mg/L)</text>
</g>
<g id="panel-C">
<path d="M84 281.5V303.5M169.4 281.5V303.5" fill="none" stroke="#aaaaaa" stroke-width="1.3"/>
<path d="M83.35 281.5H170.05M83.35 303.5H170.05" fill="none" stroke="#a2a2a2" stroke-width="1.2"/>
<line x1="84" y1="295.8" x2="169.4" y2="295.8" stroke="#9c9c9c" stroke-width="1.7"/>
<path d="M219.3 275.9V297.6M305 275.9V297.6" fill="none" stroke="#aaaaaa" stroke-width="1.3"/>
<path d="M218.65 275.9H305.65M218.65 297.6H305.65" fill="none" stroke="#a2a2a2" stroke-width="1.2"/>
<line x1="219.3" y1="285.6" x2="305" y2="285.6" stroke="#9c9c9c" stroke-width="1.7"/>
<g fill="#0a0a0a"><circle cx="113.51" cy="254.13" r="1.3"/><circle cx="116.99" cy="254.13" r="1.3"/><circle cx="120.57" cy="254.13" r="1.3"/><circle cx="118.78" cy="258.14" r="1.3"/><circle cx="102.76" cy="259.19" r="1.3"/><circle cx="120.57" cy="261.62" r="1.3"/><circle cx="124.05" cy="261.62" r="1.3"/><circle cx="109.82" cy="262.88" r="1.3"/><circle cx="113.51" cy="262.67" r="1.3"/><circle cx="111.72" cy="264.67" r="1.3"/><circle cx="81.57" cy="265.2" r="1.3"/><circle cx="85.26" cy="267.31" r="1.3"/><circle cx="74.29" cy="268.15" r="1.3"/><circle cx="101.07" cy="265.73" r="1.3"/><circle cx="94.01" cy="268.47" r="1.3"/><circle cx="97.48" cy="269.52" r="1.3"/><circle cx="122.26" cy="267.1" r="1.3"/><circle cx="120.57" cy="269.73" r="1.3"/><circle cx="122.26" cy="269.21" r="1.3"/><circle cx="115.09" cy="271.63" r="1.3"/><circle cx="104.55" cy="273.11" r="1.3"/><circle cx="109.82" cy="274.16" r="1.3"/><circle cx="111.72" cy="275.01" r="1.3"/><circle cx="120.57" cy="273.95" r="1.3"/><circle cx="124.05" cy="272.9" r="1.3"/><circle cx="92.11" cy="275.85" r="1.3"/><circle cx="95.8" cy="276.8" r="1.3"/><circle cx="83.25" cy="277.33" r="1.3"/><circle cx="86.94" cy="278.38" r="1.3"/><circle cx="116.99" cy="278.7" r="1.3"/><circle cx="69.23" cy="281.54" r="1.3"/><circle cx="79.77" cy="282.39" r="1.3"/><circle cx="83.25" cy="283.12" r="1.3"/><circle cx="104.55" cy="281.12" r="1.3"/><circle cx="111.72" cy="281.54" r="1.3"/><circle cx="115.09" cy="281.65" r="1.3"/><circle cx="118.78" cy="281.86" r="1.3"/><circle cx="122.26" cy="280.28" r="1.3"/><circle cx="124.05" cy="278.17" r="1.3"/><circle cx="122.47" cy="282.39" r="1.3"/><circle cx="83.25" cy="285.06" r="1.3"/><circle cx="79.77" cy="286.11" r="1.3"/><circle cx="72.71" cy="285.06" r="1.3"/><circle cx="72.71" cy="288.22" r="1.3"/><circle cx="76.08" cy="287.17" r="1.3"/><circle cx="86.94" cy="285.27" r="1.3"/><circle cx="90.53" cy="285.27" r="1.3"/><circle cx="108.03" cy="284.74" r="1.3"/><circle cx="108.03" cy="286.85" r="1.3"/><circle cx="111.72" cy="287.17" r="1.3"/><circle cx="122.47" cy="284.22" r="1.3"/><circle cx="122.47" cy="287.59" r="1.3"/><circle cx="118.78" cy="289.7" r="1.3"/><circle cx="124.05" cy="287.17" r="1.3"/><circle cx="94.01" cy="288.96" r="1.3"/><circle cx="69.23" cy="291.07" r="1.3"/><circle cx="65.54" cy="292.86" r="1.3"/><circle cx="83.25" cy="290.33" r="1.3"/><circle cx="83.25" cy="293.49" r="1.3"/><circle cx="90.53" cy="290.75" r="1.3"/><circle cx="76.08" cy="292.44" r="1.3"/><circle cx="77.98" cy="295.6" r="1.3"/><circle cx="97.48" cy="292.65" r="1.3"/><circle cx="99.28" cy="293.92" r="1.3"/><circle cx="97.48" cy="295.6" r="1.3"/><circle cx="106.34" cy="291.81" r="1.3"/><circle cx="115.09" cy="291.07" r="1.3"/><circle cx="116.99" cy="293.49" r="1.3"/><circle cx="118.78" cy="291.6" r="1.3"/><circle cx="70.81" cy="298.45" r="1.3"/><circle cx="86.94" cy="295.6" r="1.3"/><circle cx="88.73" cy="296.66" r="1.3"/><circle cx="90.53" cy="297.92" r="1.3"/><circle cx="90.53" cy="300.24" r="1.3"/><circle cx="94.01" cy="299.5" r="1.3"/><circle cx="101.07" cy="297.08" r="1.3"/><circle cx="106.34" cy="299.19" r="1.3"/><circle cx="108.03" cy="298.77" r="1.3"/><circle cx="115.09" cy="297.08" r="1.3"/><circle cx="116.99" cy="295.81" r="1.3"/><circle cx="118.78" cy="297.92" r="1.3"/><circle cx="116.99" cy="300.03" r="1.3"/><circle cx="115.09" cy="300.56" r="1.3"/><circle cx="118.78" cy="301.93" r="1.3"/><circle cx="62.17" cy="304.98" r="1.3"/><circle cx="94.01" cy="303.72" r="1.3"/><circle cx="97.48" cy="303.4" r="1.3"/><circle cx="104.55" cy="304.46" r="1.3"/><circle cx="108.03" cy="302.67" r="1.3"/><circle cx="111.72" cy="304.46" r="1.3"/><circle cx="113.51" cy="304.04" r="1.3"/><circle cx="111.72" cy="306.88" r="1.3"/><circle cx="122.47" cy="303.72" r="1.3"/><circle cx="124.58" cy="301.61" r="1.3"/><circle cx="86.94" cy="307.73" r="1.3"/><circle cx="97.48" cy="307.73" r="1.3"/><circle cx="101.07" cy="307.62" r="1.3"/><circle cx="101.07" cy="309.52" r="1.3"/><circle cx="115.09" cy="308.25" r="1.3"/><circle cx="79.77" cy="310.57" r="1.3"/><circle cx="94.01" cy="311.63" r="1.3"/><circle cx="104.55" cy="310.78" r="1.3"/><circle cx="104.55" cy="312.89" r="1.3"/><circle cx="111.72" cy="310.78" r="1.3"/><circle cx="115.09" cy="311.84" r="1.3"/><circle cx="118.78" cy="311.1" r="1.3"/><circle cx="118.78" cy="313.21" r="1.3"/><circle cx="122.47" cy="310.36" r="1.3"/><circle cx="101.07" cy="314.26" r="1.3"/><circle cx="65.54" cy="317.64" r="1.3"/><circle cx="111.72" cy="317.11" r="1.3"/><circle cx="86.94" cy="318.69" r="1.3"/><circle cx="90.53" cy="318.69" r="1.3"/><circle cx="122.47" cy="319.01" r="1.3"/><circle cx="86.94" cy="323.01" r="1.3"/><circle cx="101.07" cy="323.22" r="1.3"/><circle cx="118.78" cy="322.7" r="1.3"/><circle cx="122.47" cy="324.28" r="1.3"/><circle cx="97.48" cy="330.11" r="1.3"/><circle cx="104.55" cy="329.27" r="1.3"/><circle cx="108.03" cy="330.11" r="1.3"/><circle cx="111.72" cy="330.85" r="1.3"/><circle cx="122.47" cy="329.06" r="1.3"/><circle cx="111.72" cy="334.23" r="1.3"/><circle cx="115.09" cy="334.02" r="1.3"/><circle cx="122.47" cy="334.23" r="1.3"/><circle cx="131.28" cy="244.22" r="1.3"/><circle cx="125.8" cy="246.86" r="1.3"/><circle cx="125.8" cy="251.08" r="1.3"/><circle cx="132.97" cy="249.18" r="1.3"/><circle cx="127.59" cy="256.56" r="1.3"/><circle cx="136.34" cy="256.03" r="1.3"/><circle cx="141.61" cy="259.19" r="1.3"/><circle cx="129.28" cy="260.98" r="1.3"/><circle cx="131.28" cy="263.62" r="1.3"/><circle cx="132.97" cy="264.25" r="1.3"/><circle cx="138.13" cy="263.41" r="1.3"/><circle cx="127.59" cy="267.1" r="1.3"/><circle cx="127.59" cy="269.0" r="1.3"/><circle cx="139.82" cy="265.83" r="1.3"/><circle cx="139.82" cy="267.63" r="1.3"/><circle cx="148.67" cy="266.57" r="1.3"/><circle cx="150.57" cy="266.05" r="1.3"/><circle cx="134.76" cy="269.95" r="1.3"/><circle cx="138.13" cy="270.58" r="1.3"/><circle cx="141.61" cy="271.0" r="1.3"/><circle cx="125.8" cy="271.53" r="1.3"/><circle cx="129.28" cy="274.16" r="1.3"/><circle cx="131.07" cy="272.9" r="1.3"/><circle cx="134.76" cy="272.9" r="1.3"/><circle cx="134.76" cy="275.22" r="1.3"/><circle cx="136.34" cy="276.27" r="1.3"/><circle cx="138.13" cy="275.22" r="1.3"/><circle cx="136.34" cy="277.64" r="1.3"/><circle cx="143.4" cy="275.85" r="1.3"/><circle cx="145.3" cy="276.9" r="1.3"/><circle cx="154.05" cy="276.38" r="1.3"/><circle cx="164.8" cy="270.26" r="1.3"/><circle cx="173.77" cy="270.58" r="1.3"/><circle cx="177.24" cy="275.01" r="1.3"/><circle cx="178.83" cy="276.27" r="1.3"/><circle cx="159.53" cy="277.85" r="1.3"/><circle cx="150.57" cy="278.91" r="1.3"/><circle cx="139.82" cy="279.22" r="1.3"/><circle cx="125.8" cy="278.7" r="1.3"/><circle cx="127.59" cy="278.48" r="1.3"/><circle cx="132.97" cy="281.12" r="1.3"/><circle cx="154.05" cy="280.8" r="1.3"/><circle cx="153.21" cy="282.91" r="1.3"/><circle cx="170.08" cy="279.75" r="1.3"/><circle cx="171.87" cy="282.39" r="1.3"/><circle cx="125.8" cy="281.33" r="1.3"/><circle cx="125.8" cy="284.74" r="1.3"/><circle cx="150.57" cy="287.17" r="1.3"/><circle cx="154.05" cy="283.69" r="1.3"/><circle cx="157.64" cy="285.48" r="1.3"/><circle cx="171.87" cy="282.95" r="1.3"/><circle cx="175.56" cy="284.22" r="1.3"/><circle cx="143.4" cy="286.54" r="1.3"/><circle cx="143.4" cy="288.96" r="1.3"/><circle cx="143.4" cy="291.6" r="1.3"/><circle cx="145.3" cy="287.91" r="1.3"/><circle cx="147.09" cy="293.18" r="1.3"/><circle cx="129.28" cy="290.54" r="1.3"/><circle cx="132.97" cy="290.33" r="1.3"/><circle cx="132.97" cy="292.12" r="1.3"/><circle cx="136.34" cy="293.49" r="1.3"/><circle cx="129.28" cy="294.23" r="1.3"/><circle cx="131.07" cy="294.76" r="1.3"/><circle cx="132.97" cy="294.76" r="1.3"/><circle cx="134.76" cy="296.87" r="1.3"/><circle cx="136.34" cy="298.45" r="1.3"/><circle cx="160.9" cy="291.39" r="1.3"/><circle cx="160.9" cy="293.7" r="1.3"/><circle cx="164.8" cy="293.7" r="1.3"/><circle cx="164.8" cy="295.29" r="1.3"/><circle cx="166.7" cy="289.7" r="1.3"/><circle cx="168.49" cy="289.7" r="1.3"/><circle cx="168.49" cy="296.87" r="1.3"/><circle cx="150.57" cy="295.81" r="1.3"/><circle cx="150.57" cy="297.92" r="1.3"/><circle cx="155.84" cy="297.39" r="1.3"/><circle cx="157.64" cy="298.98" r="1.3"/><circle cx="163.01" cy="298.77" r="1.3"/><circle cx="129.28" cy="298.77" r="1.3"/><circle cx="129.28" cy="301.93" r="1.3"/><circle cx="125.8" cy="301.08" r="1.3"/><circle cx="125.8" cy="304.98" r="1.3"/><circle cx="139.82" cy="301.61" r="1.3"/><circle cx="139.82" cy="304.77" r="1.3"/><circle cx="143.4" cy="301.61" r="1.3"/><circle cx="136.34" cy="304.77" r="1.3"/><circle cx="147.09" cy="303.4" r="1.3"/><circle cx="154.05" cy="301.08" r="1.3"/><circle cx="154.05" cy="303.4" r="1.3"/><circle cx="157.64" cy="300.56" r="1.3"/><circle cx="157.64" cy="302.35" r="1.3"/><circle cx="160.9" cy="305.3" r="1.3"/><circle cx="164.8" cy="304.77" r="1.3"/><circle cx="168.49" cy="305.3" r="1.3"/><circle cx="175.56" cy="304.25" r="1.3"/><circle cx="178.83" cy="304.98" r="1.3"/><circle cx="178.83" cy="300.87" r="1.3"/><circle cx="180.93" cy="297.39" r="1.3"/><circle cx="182.52" cy="291.39" r="1.3"/><circle cx="182.52" cy="293.7" r="1.3"/><circle cx="186.1" cy="290.02" r="1.3"/><circle cx="125.8" cy="310.36" r="1.3"/><circle cx="129.28" cy="309.73" r="1.3"/><circle cx="132.97" cy="306.36" r="1.3"/><circle cx="132.97" cy="308.46" r="1.3"/><circle cx="132.97" cy="311.42" r="1.3"/><circle cx="136.34" cy="308.67" r="1.3"/><circle cx="143.4" cy="308.67" r="1.3"/><circle cx="147.09" cy="310.05" r="1.3"/><circle cx="150.57" cy="310.57" r="1.3"/><circle cx="164.8" cy="310.78" r="1.3"/><circle cx="164.8" cy="312.89" r="1.3"/><circle cx="157.64" cy="311.84" r="1.3"/><circle cx="154.05" cy="313.73" r="1.3"/><circle cx="161.11" cy="314.58" r="1.3"/><circle cx="147.09" cy="313.21" r="1.3"/><circle cx="147.09" cy="315.0" r="1.3"/><circle cx="136.34" cy="314.26" r="1.3"/><circle cx="139.82" cy="313.52" r="1.3"/><circle cx="132.97" cy="316.05" r="1.3"/><circle cx="139.82" cy="317.11" r="1.3"/><circle cx="136.34" cy="319.01" r="1.3"/><circle cx="147.09" cy="318.8" r="1.3"/><circle cx="157.64" cy="317.11" r="1.3"/><circle cx="161.11" cy="319.85" r="1.3"/><circle cx="161.11" cy="321.11" r="1.3"/><circle cx="168.49" cy="319.01" r="1.3"/><circle cx="171.87" cy="317.95" r="1.3"/><circle cx="171.87" cy="321.64" r="1.3"/><circle cx="175.56" cy="320.9" r="1.3"/><circle cx="129.28" cy="318.16" r="1.3"/><circle cx="129.28" cy="320.59" r="1.3"/><circle cx="129.28" cy="323.43" r="1.3"/><circle cx="125.8" cy="324.28" r="1.3"/><circle cx="186.1" cy="311.63" r="1.3"/><circle cx="189.05" cy="312.68" r="1.3"/><circle cx="136.34" cy="326.39" r="1.3"/><circle cx="129.28" cy="332.43" r="1.3"/><circle cx="125.8" cy="334.54" r="1.3"/><circle cx="139.82" cy="332.43" r="1.3"/><circle cx="125.8" cy="348.04" r="1.3"/><circle cx="261.52" cy="236.53" r="1.3"/><circle cx="261.52" cy="258.88" r="1.3"/><circle cx="259.63" cy="262.89" r="1.3"/><circle cx="263.32" cy="267.32" r="1.3"/><circle cx="265.11" cy="270.27" r="1.3"/><circle cx="259.63" cy="272.06" r="1.3"/><circle cx="258.05" cy="275.54" r="1.3"/><circle cx="263.32" cy="284.22" r="1.3"/><circle cx="261.52" cy="286.23" r="1.3"/><circle cx="263.32" cy="288.65" r="1.3"/><circle cx="266.8" cy="291.5" r="1.3"/><circle cx="255.94" cy="294.66" r="1.3"/><circle cx="259.63" cy="294.98" r="1.3"/><circle cx="259.63" cy="297.61" r="1.3"/><circle cx="263.32" cy="312.9" r="1.3"/><circle cx="261.52" cy="331.5" r="1.3"/></g>
<line x1="35.85" y1="359.35" x2="328.8" y2="359.35" stroke="#505050" stroke-width="1.2"/>
<line x1="35.85" y1="225.7" x2="35.85" y2="359.95" stroke="#5c5c5c" stroke-width="1.1"/>
<line x1="32.45" y1="228.9" x2="35.85" y2="228.9" stroke="#3a3a3a" stroke-width="1"/>
<text x="31.35" y="231.0" font-size="5.7" text-anchor="end" textLength="14.6" lengthAdjust="spacingAndGlyphs" stroke="#1a1a1a" stroke-width="0.22">0.105</text>
<line x1="32.45" y1="249.15" x2="35.85" y2="249.15" stroke="#3a3a3a" stroke-width="1"/>
<text x="31.35" y="251.25" font-size="5.7" text-anchor="end" textLength="14.6" lengthAdjust="spacingAndGlyphs" stroke="#1a1a1a" stroke-width="0.22">0.095</text>
<line x1="32.45" y1="269.4" x2="35.85" y2="269.4" stroke="#3a3a3a" stroke-width="1"/>
<text x="31.35" y="271.5" font-size="5.7" text-anchor="end" textLength="14.6" lengthAdjust="spacingAndGlyphs" stroke="#1a1a1a" stroke-width="0.22">0.085</text>
<line x1="32.45" y1="289.65" x2="35.85" y2="289.65" stroke="#3a3a3a" stroke-width="1"/>
<text x="31.35" y="291.75" font-size="5.7" text-anchor="end" textLength="14.6" lengthAdjust="spacingAndGlyphs" stroke="#1a1a1a" stroke-width="0.22">0.075</text>
<line x1="32.45" y1="309.9" x2="35.85" y2="309.9" stroke="#3a3a3a" stroke-width="1"/>
<text x="31.35" y="312.0" font-size="5.7" text-anchor="end" textLength="14.6" lengthAdjust="spacingAndGlyphs" stroke="#1a1a1a" stroke-width="0.22">0.065</text>
<line x1="32.45" y1="330.15" x2="35.85" y2="330.15" stroke="#3a3a3a" stroke-width="1"/>
<text x="31.35" y="332.25" font-size="5.7" text-anchor="end" textLength="14.6" lengthAdjust="spacingAndGlyphs" stroke="#1a1a1a" stroke-width="0.22">0.055</text>
<line x1="32.45" y1="350.4" x2="35.85" y2="350.4" stroke="#3a3a3a" stroke-width="1"/>
<text x="31.35" y="352.5" font-size="5.7" text-anchor="end" textLength="14.6" lengthAdjust="spacingAndGlyphs" stroke="#1a1a1a" stroke-width="0.22">0.045</text>
<line x1="125.7" y1="359.35" x2="125.7" y2="363.35" stroke="#777" stroke-width="0.9"/>
<line x1="262.4" y1="359.35" x2="262.4" y2="363.35" stroke="#777" stroke-width="0.9"/>
<path d="M124.5 216.5V211.7H262.5V216.5" fill="none" stroke="#4a4a4a" stroke-width="1.2"/>
<text x="178.6" y="208.1" font-size="8.5" text-anchor="start" textLength="31.1" lengthAdjust="spacingAndGlyphs" stroke="#1a1a1a" stroke-width="0.15">p = 0.02</text>
<text x="53.9" y="219.0" font-size="11.8" text-anchor="start" stroke="#1a1a1a" stroke-width="0.15">C</text>
<text x="80.8" y="374.2" font-size="9.3" text-anchor="start" textLength="90.4" lengthAdjust="spacingAndGlyphs" stroke="#1a1a1a" stroke-width="0.15">Patients without ATE</text>
<text x="220.4" y="374.2" font-size="9.3" text-anchor="start" textLength="74.9" lengthAdjust="spacingAndGlyphs" stroke="#1a1a1a" stroke-width="0.15">Patients with ATE</text>
<text transform="translate(298.9 375.5) scale(1.0 1.08)" font-size="9.3" stroke="#1a1a1a" stroke-width="0.3">†</text>
<text transform="translate(7.5 325.3) rotate(-90)" font-size="8.4" textLength="14.4" lengthAdjust="spacingAndGlyphs">D-D</text>
<text transform="translate(9.5 310.7) rotate(-90)" font-size="4.3" textLength="6.8" lengthAdjust="spacingAndGlyphs">rate</text>
<text transform="translate(7.5 300.7) rotate(-90)" font-size="8.8" textLength="49.2" lengthAdjust="spacingAndGlyphs">(mg/L/min)</text>
</g>
<g id="panel-D">
<path d="M421.5 292.8V326M507.4 292.8V326" fill="none" stroke="#a6a6a6" stroke-width="1.4"/>
<path d="M420.8 292.8H508.1M420.8 326H508.1" fill="none" stroke="#a6a6a6" stroke-width="1.4"/>
<line x1="421.5" y1="306.3" x2="507.4" y2="306.3" stroke="#9c9c9c" stroke-width="1.7"/>
<path d="M557.9 288.1V301.6M644.7 288.1V301.6" fill="none" stroke="#a6a6a6" stroke-width="1.4"/>
<path d="M557.2 288.1H645.4M557.2 301.6H645.4" fill="none" stroke="#a6a6a6" stroke-width="1.4"/>
<line x1="557.9" y1="294.1" x2="644.7" y2="294.1" stroke="#9c9c9c" stroke-width="1.7"/>
<g fill="#0a0a0a"><circle cx="458.55" cy="234.85" r="1.3"/><circle cx="462.14" cy="235.59" r="1.3"/><circle cx="465.62" cy="236.43" r="1.3"/><circle cx="468.99" cy="237.7" r="1.3"/><circle cx="456.87" cy="239.6" r="1.3"/><circle cx="463.83" cy="240.65" r="1.3"/><circle cx="467.2" cy="241.49" r="1.3"/><circle cx="470.68" cy="242.76" r="1.3"/><circle cx="460.35" cy="243.5" r="1.3"/><circle cx="460.35" cy="248.87" r="1.3"/><circle cx="463.83" cy="249.93" r="1.3"/><circle cx="467.2" cy="252.46" r="1.3"/><circle cx="453.49" cy="263.32" r="1.3"/><circle cx="442.95" cy="266.69" r="1.3"/><circle cx="446.43" cy="267.22" r="1.3"/><circle cx="450.02" cy="267.22" r="1.3"/><circle cx="456.87" cy="265.74" r="1.3"/><circle cx="460.35" cy="264.37" r="1.3"/><circle cx="463.83" cy="264.16" r="1.3"/><circle cx="467.2" cy="265.64" r="1.3"/><circle cx="470.68" cy="264.69" r="1.3"/><circle cx="474.05" cy="264.9" r="1.3"/><circle cx="463.83" cy="267.85" r="1.3"/><circle cx="468.99" cy="269.11" r="1.3"/><circle cx="472.47" cy="268.27" r="1.3"/><circle cx="455.08" cy="270.91" r="1.3"/><circle cx="458.55" cy="271.75" r="1.3"/><circle cx="462.14" cy="271.22" r="1.3"/><circle cx="465.62" cy="272.28" r="1.3"/><circle cx="458.55" cy="274.39" r="1.3"/><circle cx="462.14" cy="274.07" r="1.3"/><circle cx="468.99" cy="274.6" r="1.3"/><circle cx="458.55" cy="275.37" r="1.3"/><circle cx="465.62" cy="276.74" r="1.3"/><circle cx="451.7" cy="276.74" r="1.3"/><circle cx="455.29" cy="278.54" r="1.3"/><circle cx="468.99" cy="278.54" r="1.3"/><circle cx="472.47" cy="278.54" r="1.3"/><circle cx="444.85" cy="279.91" r="1.3"/><circle cx="448.22" cy="279.17" r="1.3"/><circle cx="458.55" cy="279.91" r="1.3"/><circle cx="460.35" cy="281.7" r="1.3"/><circle cx="462.14" cy="279.17" r="1.3"/><circle cx="463.83" cy="284.44" r="1.3"/><circle cx="467.2" cy="284.86" r="1.3"/><circle cx="467.2" cy="286.76" r="1.3"/><circle cx="463.83" cy="288.66" r="1.3"/><circle cx="432.62" cy="288.02" r="1.3"/><circle cx="436.1" cy="287.29" r="1.3"/><circle cx="439.58" cy="288.66" r="1.3"/><circle cx="446.43" cy="288.34" r="1.3"/><circle cx="427.45" cy="291.71" r="1.3"/><circle cx="429.25" cy="290.77" r="1.3"/><circle cx="434.31" cy="291.82" r="1.3"/><circle cx="437.89" cy="291.82" r="1.3"/><circle cx="442.95" cy="290.98" r="1.3"/><circle cx="450.02" cy="290.13" r="1.3"/><circle cx="453.49" cy="289.71" r="1.3"/><circle cx="456.87" cy="290.45" r="1.3"/><circle cx="458.77" cy="291.82" r="1.3"/><circle cx="460.35" cy="290.77" r="1.3"/><circle cx="462.14" cy="292.03" r="1.3"/><circle cx="465.62" cy="293.61" r="1.3"/><circle cx="468.99" cy="292.03" r="1.3"/><circle cx="470.68" cy="291.29" r="1.3"/><circle cx="474.05" cy="290.13" r="1.3"/><circle cx="472.47" cy="293.08" r="1.3"/><circle cx="417.33" cy="291.71" r="1.3"/><circle cx="420.81" cy="293.4" r="1.3"/><circle cx="413.96" cy="296.46" r="1.3"/><circle cx="423.98" cy="296.46" r="1.3"/><circle cx="425.87" cy="298.57" r="1.3"/><circle cx="422.39" cy="300.46" r="1.3"/><circle cx="429.25" cy="297.3" r="1.3"/><circle cx="431.04" cy="296.25" r="1.3"/><circle cx="432.62" cy="296.98" r="1.3"/><circle cx="436.1" cy="297.09" r="1.3"/><circle cx="441.37" cy="296.25" r="1.3"/><circle cx="442.95" cy="297.62" r="1.3"/><circle cx="444.85" cy="296.77" r="1.3"/><circle cx="439.58" cy="299.62" r="1.3"/><circle cx="448.22" cy="296.77" r="1.3"/><circle cx="451.7" cy="295.4" r="1.3"/><circle cx="453.49" cy="297.51" r="1.3"/><circle cx="455.29" cy="296.04" r="1.3"/><circle cx="456.87" cy="295.72" r="1.3"/><circle cx="460.35" cy="296.04" r="1.3"/><circle cx="463.83" cy="296.46" r="1.3"/><circle cx="467.2" cy="296.98" r="1.3"/><circle cx="470.68" cy="296.77" r="1.3"/><circle cx="474.05" cy="295.4" r="1.3"/><circle cx="446.43" cy="299.94" r="1.3"/><circle cx="450.02" cy="300.67" r="1.3"/><circle cx="451.7" cy="302.57" r="1.3"/><circle cx="444.85" cy="303.84" r="1.3"/><circle cx="434.31" cy="305.52" r="1.3"/><circle cx="437.89" cy="305.73" r="1.3"/><circle cx="441.37" cy="306.79" r="1.3"/><circle cx="448.22" cy="306.26" r="1.3"/><circle cx="448.22" cy="309.11" r="1.3"/><circle cx="451.7" cy="307.84" r="1.3"/><circle cx="455.29" cy="304.47" r="1.3"/><circle cx="458.55" cy="305.95" r="1.3"/><circle cx="462.14" cy="306.58" r="1.3"/><circle cx="465.62" cy="306.58" r="1.3"/><circle cx="468.99" cy="305.95" r="1.3"/><circle cx="472.47" cy="305.52" r="1.3"/><circle cx="472.47" cy="307.32" r="1.3"/><circle cx="458.55" cy="308.9" r="1.3"/><circle cx="455.29" cy="309.74" r="1.3"/><circle cx="462.14" cy="310.8" r="1.3"/><circle cx="467.2" cy="311.22" r="1.3"/><circle cx="468.99" cy="308.9" r="1.3"/><circle cx="436.1" cy="312.38" r="1.3"/><circle cx="439.58" cy="312.06" r="1.3"/><circle cx="442.95" cy="314.17" r="1.3"/><circle cx="446.43" cy="311.85" r="1.3"/><circle cx="450.02" cy="314.7" r="1.3"/><circle cx="453.49" cy="312.59" r="1.3"/><circle cx="453.49" cy="314.7" r="1.3"/><circle cx="456.87" cy="312.06" r="1.3"/><circle cx="460.35" cy="313.64" r="1.3"/><circle cx="463.83" cy="313.64" r="1.3"/><circle cx="465.62" cy="312.27" r="1.3"/><circle cx="470.68" cy="313.85" r="1.3"/><circle cx="470.68" cy="315.75" r="1.3"/><circle cx="463.83" cy="316.28" r="1.3"/><circle cx="474.05" cy="312.59" r="1.3"/><circle cx="450.02" cy="317.86" r="1.3"/><circle cx="444.85" cy="319.44" r="1.3"/><circle cx="455.29" cy="318.07" r="1.3"/><circle cx="456.87" cy="318.39" r="1.3"/><circle cx="460.35" cy="318.07" r="1.3"/><circle cx="463.83" cy="318.39" r="1.3"/><circle cx="465.62" cy="317.33" r="1.3"/><circle cx="451.39" cy="320.43" r="1.3"/><circle cx="461.93" cy="319.69" r="1.3"/><circle cx="432.62" cy="322.33" r="1.3"/><circle cx="434.52" cy="321.48" r="1.3"/><circle cx="437.89" cy="321.06" r="1.3"/><circle cx="439.58" cy="323.59" r="1.3"/><circle cx="441.37" cy="321.8" r="1.3"/><circle cx="448.22" cy="322.85" r="1.3"/><circle cx="450.02" cy="322.11" r="1.3"/><circle cx="453.49" cy="323.38" r="1.3"/><circle cx="458.55" cy="322.54" r="1.3"/><circle cx="463.83" cy="322.85" r="1.3"/><circle cx="468.99" cy="321.8" r="1.3"/><circle cx="472.47" cy="322.85" r="1.3"/><circle cx="436.1" cy="326.54" r="1.3"/><circle cx="442.95" cy="325.49" r="1.3"/><circle cx="442.95" cy="326.75" r="1.3"/><circle cx="446.43" cy="326.23" r="1.3"/><circle cx="450.02" cy="327.81" r="1.3"/><circle cx="453.49" cy="329.18" r="1.3"/><circle cx="456.87" cy="327.07" r="1.3"/><circle cx="456.87" cy="329.49" r="1.3"/><circle cx="460.35" cy="326.02" r="1.3"/><circle cx="463.83" cy="326.75" r="1.3"/><circle cx="467.2" cy="325.28" r="1.3"/><circle cx="467.2" cy="327.07" r="1.3"/><circle cx="470.68" cy="326.54" r="1.3"/><circle cx="474.05" cy="327.07" r="1.3"/><circle cx="439.58" cy="329.18" r="1.3"/><circle cx="432.62" cy="330.97" r="1.3"/><circle cx="460.35" cy="330.23" r="1.3"/><circle cx="468.99" cy="330.76" r="1.3"/><circle cx="470.68" cy="329.18" r="1.3"/><circle cx="474.05" cy="329.7" r="1.3"/><circle cx="455.29" cy="332.87" r="1.3"/><circle cx="458.55" cy="334.98" r="1.3"/><circle cx="462.14" cy="334.45" r="1.3"/><circle cx="465.62" cy="334.13" r="1.3"/><circle cx="468.99" cy="335.5" r="1.3"/><circle cx="472.47" cy="334.98" r="1.3"/><circle cx="451.7" cy="336.56" r="1.3"/><circle cx="455.29" cy="338.88" r="1.3"/><circle cx="458.55" cy="337.61" r="1.3"/><circle cx="462.14" cy="338.14" r="1.3"/><circle cx="465.62" cy="336.56" r="1.3"/><circle cx="468.99" cy="338.67" r="1.3"/><circle cx="472.47" cy="338.67" r="1.3"/><circle cx="437.89" cy="338.98" r="1.3"/><circle cx="441.37" cy="340.25" r="1.3"/><circle cx="444.85" cy="341.83" r="1.3"/><circle cx="446.43" cy="342.14" r="1.3"/><circle cx="448.22" cy="340.77" r="1.3"/><circle cx="451.7" cy="341.09" r="1.3"/><circle cx="453.49" cy="343.62" r="1.3"/><circle cx="462.14" cy="340.77" r="1.3"/><circle cx="465.62" cy="340.04" r="1.3"/><circle cx="470.68" cy="342.36" r="1.3"/><circle cx="467.2" cy="343.94" r="1.3"/><circle cx="474.05" cy="341.09" r="1.3"/><circle cx="456.87" cy="344.25" r="1.3"/><circle cx="458.55" cy="343.2" r="1.3"/><circle cx="460.35" cy="344.67" r="1.3"/><circle cx="450.02" cy="346.57" r="1.3"/><circle cx="450.02" cy="348.15" r="1.3"/><circle cx="450.02" cy="349.73" r="1.3"/><circle cx="460.35" cy="347.1" r="1.3"/><circle cx="463.83" cy="346.57" r="1.3"/><circle cx="470.68" cy="346.57" r="1.3"/><circle cx="474.05" cy="344.99" r="1.3"/><circle cx="456.87" cy="349.52" r="1.3"/><circle cx="460.35" cy="350.26" r="1.3"/><circle cx="467.2" cy="348.68" r="1.3"/><circle cx="467.2" cy="350.26" r="1.3"/><circle cx="474.05" cy="324.64" r="1.3"/><circle cx="477.59" cy="264.69" r="1.3"/><circle cx="481.07" cy="265.42" r="1.3"/><circle cx="484.44" cy="265.64" r="1.3"/><circle cx="475.8" cy="278.54" r="1.3"/><circle cx="479.28" cy="279.17" r="1.3"/><circle cx="482.86" cy="279.38" r="1.3"/><circle cx="484.44" cy="286.97" r="1.3"/><circle cx="494.77" cy="288.02" r="1.3"/><circle cx="498.25" cy="288.34" r="1.3"/><circle cx="481.07" cy="290.13" r="1.3"/><circle cx="477.59" cy="291.5" r="1.3"/><circle cx="475.8" cy="292.56" r="1.3"/><circle cx="487.92" cy="290.77" r="1.3"/><circle cx="491.4" cy="291.5" r="1.3"/><circle cx="510.38" cy="293.4" r="1.3"/><circle cx="513.75" cy="293.82" r="1.3"/><circle cx="496.57" cy="293.61" r="1.3"/><circle cx="500.05" cy="293.93" r="1.3"/><circle cx="486.02" cy="293.93" r="1.3"/><circle cx="479.28" cy="295.72" r="1.3"/><circle cx="482.86" cy="295.19" r="1.3"/><circle cx="489.71" cy="295.4" r="1.3"/><circle cx="487.92" cy="297.51" r="1.3"/><circle cx="493.19" cy="296.77" r="1.3"/><circle cx="494.77" cy="298.57" r="1.3"/><circle cx="498.25" cy="296.77" r="1.3"/><circle cx="503.52" cy="295.4" r="1.3"/><circle cx="506.9" cy="296.77" r="1.3"/><circle cx="501.63" cy="299.09" r="1.3"/><circle cx="505.11" cy="299.09" r="1.3"/><circle cx="481.07" cy="298.36" r="1.3"/><circle cx="477.59" cy="300.25" r="1.3"/><circle cx="484.44" cy="299.94" r="1.3"/><circle cx="491.4" cy="300.67" r="1.3"/><circle cx="489.71" cy="302.57" r="1.3"/><circle cx="493.19" cy="303.31" r="1.3"/><circle cx="479.28" cy="303.1" r="1.3"/><circle cx="482.86" cy="303.63" r="1.3"/><circle cx="486.02" cy="305.0" r="1.3"/><circle cx="475.8" cy="306.26" r="1.3"/><circle cx="479.28" cy="308.9" r="1.3"/><circle cx="484.44" cy="311.53" r="1.3"/><circle cx="481.07" cy="312.9" r="1.3"/><circle cx="487.92" cy="313.11" r="1.3"/><circle cx="491.4" cy="312.8" r="1.3"/><circle cx="477.59" cy="314.91" r="1.3"/><circle cx="475.8" cy="318.39" r="1.3"/><circle cx="479.28" cy="319.44" r="1.3"/><circle cx="482.86" cy="318.91" r="1.3"/><circle cx="486.02" cy="318.07" r="1.3"/><circle cx="474.22" cy="316.07" r="1.3"/><circle cx="477.59" cy="322.85" r="1.3"/><circle cx="481.07" cy="323.38" r="1.3"/><circle cx="484.44" cy="323.38" r="1.3"/><circle cx="487.92" cy="322.33" r="1.3"/><circle cx="489.71" cy="321.06" r="1.3"/><circle cx="491.4" cy="323.59" r="1.3"/><circle cx="493.19" cy="322.85" r="1.3"/><circle cx="494.77" cy="325.17" r="1.3"/><circle cx="487.92" cy="326.54" r="1.3"/><circle cx="477.59" cy="328.86" r="1.3"/><circle cx="481.07" cy="330.76" r="1.3"/><circle cx="484.44" cy="329.7" r="1.3"/><circle cx="491.4" cy="329.18" r="1.3"/><circle cx="494.77" cy="330.44" r="1.3"/><circle cx="475.8" cy="336.56" r="1.3"/><circle cx="482.65" cy="338.35" r="1.3"/><circle cx="479.28" cy="340.46" r="1.3"/><circle cx="475.8" cy="342.14" r="1.3"/><circle cx="486.02" cy="342.36" r="1.3"/><circle cx="489.71" cy="343.09" r="1.3"/><circle cx="481.07" cy="345.73" r="1.3"/><circle cx="477.59" cy="346.57" r="1.3"/><circle cx="477.59" cy="347.63" r="1.3"/><circle cx="477.59" cy="350.58" r="1.3"/><circle cx="484.44" cy="351.32" r="1.3"/><circle cx="598.89" cy="267.07" r="1.3"/><circle cx="602.37" cy="266.86" r="1.3"/><circle cx="600.58" cy="269.49" r="1.3"/><circle cx="600.58" cy="283.62" r="1.3"/><circle cx="598.89" cy="286.89" r="1.3"/><circle cx="602.37" cy="289.73" r="1.3"/><circle cx="600.58" cy="292.37" r="1.3"/><circle cx="597.1" cy="293.95" r="1.3"/><circle cx="593.62" cy="295.01" r="1.3"/><circle cx="607.43" cy="293.95" r="1.3"/><circle cx="603.95" cy="295.85" r="1.3"/><circle cx="602.37" cy="301.54" r="1.3"/><circle cx="598.89" cy="304.96" r="1.3"/><circle cx="600.58" cy="316.03" r="1.3"/><circle cx="600.58" cy="327.63" r="1.3"/><circle cx="600.58" cy="339.22" r="1.3"/></g>
<line x1="374.4" y1="359.35" x2="669" y2="359.35" stroke="#5a5a5a" stroke-width="1.05"/>
<line x1="374.4" y1="226.2" x2="374.4" y2="359.88" stroke="#5c5c5c" stroke-width="1.1"/>
<line x1="372.1" y1="234.7" x2="374.4" y2="234.7" stroke="#3a3a3a" stroke-width="1"/>
<text x="370.9" y="236.9" font-size="5.5" text-anchor="end" textLength="8.6" lengthAdjust="spacingAndGlyphs" stroke="#1a1a1a" stroke-width="0.22">5.5</text>
<line x1="372.1" y1="259.75" x2="374.4" y2="259.75" stroke="#3a3a3a" stroke-width="1"/>
<text x="370.9" y="261.95" font-size="5.5" text-anchor="end" textLength="8.6" lengthAdjust="spacingAndGlyphs" stroke="#1a1a1a" stroke-width="0.22">5.0</text>
<line x1="372.1" y1="284.8" x2="374.4" y2="284.8" stroke="#3a3a3a" stroke-width="1"/>
<text x="370.9" y="287.0" font-size="5.5" text-anchor="end" textLength="8.6" lengthAdjust="spacingAndGlyphs" stroke="#1a1a1a" stroke-width="0.22">4.5</text>
<line x1="372.1" y1="309.85" x2="374.4" y2="309.85" stroke="#3a3a3a" stroke-width="1"/>
<text x="370.9" y="312.05" font-size="5.5" text-anchor="end" textLength="8.6" lengthAdjust="spacingAndGlyphs" stroke="#1a1a1a" stroke-width="0.22">4.0</text>
<line x1="372.1" y1="334.9" x2="374.4" y2="334.9" stroke="#3a3a3a" stroke-width="1"/>
<text x="370.9" y="337.1" font-size="5.5" text-anchor="end" textLength="8.6" lengthAdjust="spacingAndGlyphs" stroke="#1a1a1a" stroke-width="0.22">3.5</text>
<line x1="464.1" y1="359.35" x2="464.1" y2="363.35" stroke="#777" stroke-width="0.9"/>
<line x1="600.5" y1="359.35" x2="600.5" y2="363.35" stroke="#777" stroke-width="0.9"/>
<path d="M463.8 216.5V211.9H600.5V216.5" fill="none" stroke="#555" stroke-width="1.3"/>
<text x="517.3" y="208.1" font-size="8.5" text-anchor="start" textLength="30.7" lengthAdjust="spacingAndGlyphs" stroke="#1a1a1a" stroke-width="0.15">p = 0.03</text>
<text x="390.8" y="221.1" font-size="11.8" text-anchor="start" stroke="#1a1a1a" stroke-width="0.15">D</text>
<text x="418.8" y="374.1" font-size="9.3" text-anchor="start" textLength="90.5" lengthAdjust="spacingAndGlyphs" stroke="#1a1a1a" stroke-width="0.15">Patients without ATE</text>
<text x="559" y="374.1" font-size="9.3" text-anchor="start" textLength="74.9" lengthAdjust="spacingAndGlyphs" stroke="#1a1a1a" stroke-width="0.15">Patients with ATE</text>
<text transform="translate(637.5 375.4) scale(1.0 1.08)" font-size="9.3" stroke="#1a1a1a" stroke-width="0.3">†</text>
<text transform="translate(349.8 310.7) rotate(-90)" font-size="8.4" textLength="15.3" lengthAdjust="spacingAndGlyphs">D-D</text>
<text transform="translate(351.8 295.2) rotate(-90)" font-size="4.3" textLength="9.6" lengthAdjust="spacingAndGlyphs">max</text>
<text transform="translate(349.8 282.2) rotate(-90)" font-size="8.8" textLength="27.3" lengthAdjust="spacingAndGlyphs">(mg/L)</text>
</g>
<g id="footnotes">
<text x="40.3" y="410.4" font-size="8.6" text-anchor="start" textLength="274.2" lengthAdjust="spacingAndGlyphs" stroke="#1a1a1a" stroke-width="0.15">* Including patients with recurrent VTE (marked as open diamonds).</text>
<text transform="translate(40.1 434.2) scale(1.1 1.08)" font-size="9.3" stroke="#1a1a1a" stroke-width="0.3">†</text>
<text x="47.7" y="433" font-size="8.6" text-anchor="start" textLength="155.3" lengthAdjust="spacingAndGlyphs" stroke="#1a1a1a" stroke-width="0.15">Excluding patients with recurrent VTE.</text>
<text x="47.5" y="452.3" font-size="8.6" text-anchor="start" textLength="334" lengthAdjust="spacingAndGlyphs" stroke="#1a1a1a" stroke-width="0.15">Center lines show the means and box limits indicate the 25th and 75th percentiles.</text>
</g>
</svg>
</body></html>
